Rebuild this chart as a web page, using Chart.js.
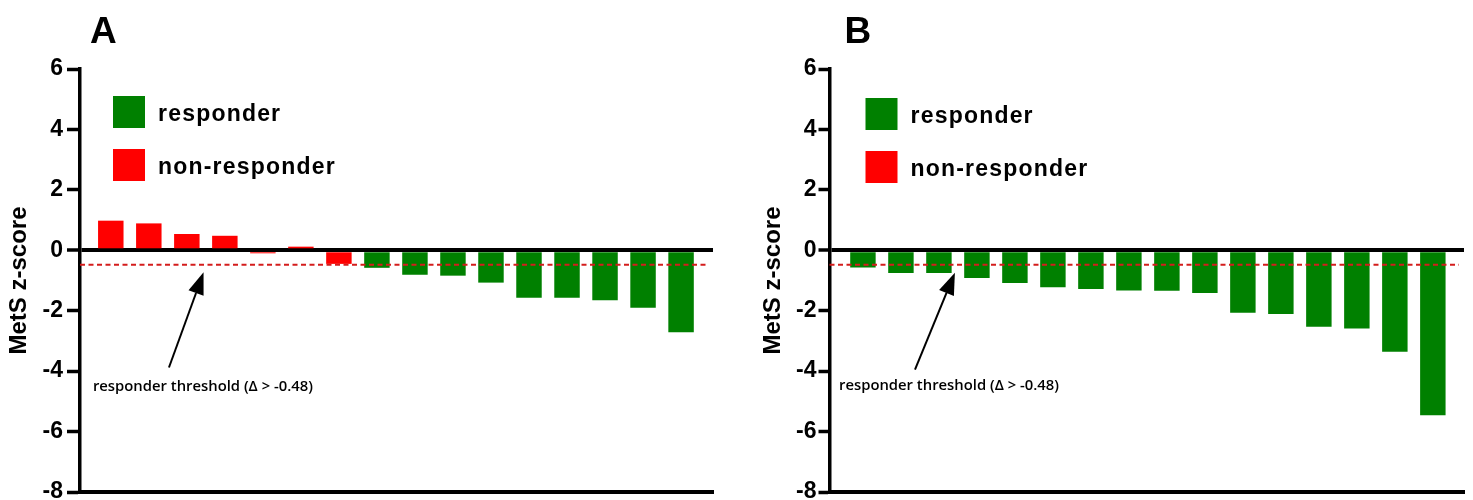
<!DOCTYPE html>
<html>
<head>
<meta charset="utf-8">
<script src="https://cdn.jsdelivr.net/npm/chart.js@4.4.1/dist/chart.umd.min.js"></script>
<style>
  html, body { margin: 0; padding: 0; background: #fff; }
  #wrap { position: relative; width: 1473px; height: 500px; }
  #chartA { position: absolute; left: 0; top: 0; }
  #chartB { position: absolute; left: 740px; top: 0; }
</style>
</head>
<body>
<div id="wrap">
  <canvas id="chartA" width="740" height="500"></canvas>
  <canvas id="chartB" width="733" height="500"></canvas>
</div>
<script>
// values, one bar per subject (sorted)
const valuesA = [0.98, 0.89, 0.54, 0.48, -0.10, 0.12, -0.45, -0.58, -0.81, -0.84, -1.07, -1.57, -1.57, -1.65, -1.90, -2.71];
const valuesB = [-0.57, -0.75, -0.75, -0.92, -1.08, -1.22, -1.28, -1.33, -1.34, -1.41, -2.07, -2.11, -2.53, -2.59, -3.36, -5.46];
const yTicks = [6, 4, 2, 0, -2, -4, -6, -8];
const legendLabels = ['responder', 'non-responder'];
const legendColors = ['#008000', '#ff0000'];
const threshold = -0.48;
const noteText = 'responder threshold (\u0394 > -0.48)';
const yTitle = 'MetS z-score';

Chart.defaults.font.family = "'Liberation Sans', Arial, sans-serif";
Chart.defaults.color = '#000';

// threshold line, legend, panel letter and arrow note
const panelDecor = {
  id: 'panelDecor',
  afterDatasetsDraw(chart, args, opts) {
    const { ctx, chartArea, scales: { x, y } } = chart;
    ctx.save();

    const ty = y.getPixelForValue(threshold);
    ctx.strokeStyle = '#d41c1c';
    ctx.lineWidth = 2;
    ctx.setLineDash([5, 3.5]);
    ctx.beginPath();
    ctx.moveTo(chartArea.left, ty);
    ctx.lineTo(chartArea.right - 5, ty);
    ctx.stroke();
    ctx.setLineDash([]);

    // legend
    const bx = chartArea.left + opts.legendDx;
    const by = chartArea.top + opts.legendDy;
    ctx.font = "bold 23px 'Liberation Sans', Arial, sans-serif";
    ctx.letterSpacing = '1.2px';
    ctx.textBaseline = 'alphabetic';
    ctx.textAlign = 'left';
    legendLabels.forEach((lbl, i) => {
      ctx.fillStyle = legendColors[i];
      ctx.fillRect(bx, by + i * 53, 32, 32);
      ctx.fillStyle = '#000';
      ctx.fillText(lbl, bx + 45, by + i * 53 + 25);
    });
    ctx.letterSpacing = '0px';

    // panel letter
    ctx.font = "bold 37px 'Liberation Sans', Arial, sans-serif";
    ctx.fillText(opts.letter, chartArea.left + opts.letterDx, 43);

    // arrow
    const tx = x.getPixelForValue(opts.tip[0]), tyy = y.getPixelForValue(opts.tip[1]);
    const sx = x.getPixelForValue(opts.tail[0]), sy = y.getPixelForValue(opts.tail[1]);
    const ang = Math.atan2(tyy - sy, tx - sx);
    const headLen = 22, headHalf = 8;
    const hx = tx - headLen * Math.cos(ang), hy = tyy - headLen * Math.sin(ang);
    ctx.strokeStyle = '#000';
    ctx.lineWidth = 2;
    ctx.beginPath();
    ctx.moveTo(sx, sy);
    ctx.lineTo(hx, hy);
    ctx.stroke();
    ctx.fillStyle = '#000';
    ctx.beginPath();
    ctx.moveTo(tx, tyy);
    ctx.lineTo(hx + headHalf * Math.sin(ang), hy - headHalf * Math.cos(ang));
    ctx.lineTo(hx - headHalf * Math.sin(ang), hy + headHalf * Math.cos(ang));
    ctx.closePath();
    ctx.fill();

    // note
    ctx.font = "600 15px 'Open Sans', sans-serif";
    ctx.fillText(noteText, x.getPixelForValue(opts.note[0]), y.getPixelForValue(opts.note[1]), 220);
    ctx.restore();
  }
};

function makePanel(id, values, p) {
  new Chart(document.getElementById(id), {
    type: 'bar',
    data: {
      datasets: [{
        data: values.map((v, i) => ({ x: i, y: v })),
        backgroundColor: values.map(v => (v > threshold ? legendColors[1] : legendColors[0])),
        borderWidth: 0,
        barPercentage: 0.67,
        categoryPercentage: 1,
      }],
    },
    options: {
      responsive: false,
      animation: false,
      layout: { padding: { left: 0, right: p.padRight, top: 69, bottom: 8 } },
      plugins: {
        legend: { display: false },
        tooltip: { enabled: false },
        panelDecor: p,
      },
      scales: {
        x: {
          type: 'linear',
          offset: false,
          min: p.xMin,
          max: p.xMax,
          ticks: { display: false },
          grid: { display: false },
          border: { display: true, color: '#000', width: 4 },
          afterFit: (s) => { s.height = 0; s.paddingLeft = 0; s.paddingRight = 0; },
        },
        y: {
          min: -8,
          max: 6,
          afterBuildTicks: (s) => { s.ticks = yTicks.map(v => ({ value: v })); },
          afterFit: (s) => { s.width = p.axisWidth; s.paddingTop = 0; s.paddingBottom = 0; },
          ticks: {
            padding: p.tickPad,
            font: { size: 23, weight: 'bold' },
            color: '#000',
          },
          grid: {
            drawOnChartArea: true,
            color: (c) => (c.tick && c.tick.value === 0 ? '#000' : 'rgba(0,0,0,0)'),
            lineWidth: (c) => (c.tick && c.tick.value === 0 ? 4 : 1),
            tickColor: '#000',
            tickWidth: 3.5,
            tickLength: p.tickLen,
          },
          border: { display: true, color: '#000', width: 3.5 },
          title: {
            display: true,
            text: yTitle,
            font: { size: 24, weight: 'bold' },
            color: '#000',
            padding: { top: p.titlePad, bottom: 0 },
          },
        },
      },
    },
    plugins: [panelDecor],
  });
}

makePanel('chartA', valuesA, {
  letter: 'A', axisWidth: 80, padRight: 27, xMin: -0.81, xMax: 15.84,
  titlePad: 5, tickPad: 4, tickLen: 13, legendDx: 33, legendDy: 27, letterDx: 10,
  tip: [2.44, -0.73], tail: [1.53, -3.88], note: [-0.47, -4.67],
});
makePanel('chartB', valuesB, {
  letter: 'B', axisWidth: 89.5, padRight: 9, xMin: -0.88, xMax: 15.82,
  titlePad: 19, tickPad: 2, tickLen: 11, legendDx: 36, legendDy: 29, letterDx: 15,
  tip: [2.42, -0.74], tail: [1.37, -3.95], note: [-0.63, -4.61],
});
</script>
</body>
</html>
